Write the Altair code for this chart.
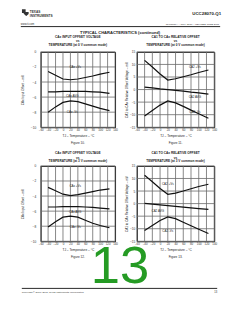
import altair as alt
import pandas as pd

FONT = "Liberation Sans"

temps = [-40, -20, 0, 20, 40, 60, 80, 100, 125]

# Figure 10: CAx input offset (0 V common mode), mV
f10_pos = [-2.6, -3.1, -3.6, -3.7, -3.6, -3.4, -3.2, -2.95, -2.7]
f10_avg = [-5.3, -5.3, -5.25, -5.25, -5.25, -5.25, -5.3, -5.35, -5.5]
f10_neg = [-8.0, -7.3, -6.7, -6.5, -6.6, -6.9, -7.2, -7.5, -7.8]
# Figure 11: CA1 to CAx relative offset (0 V common mode), mV
f11_pos = [11.6, 9.0, 6.2, 3.8, 4.3, 5.1, 5.9, 6.8, 7.8]
f11_avg = [1.0, 0.7, 0.3, 0.0, -0.3, -0.6, -1.0, -1.3, -1.8]
f11_neg = [-10.5, -8.3, -6.2, -4.5, -5.3, -6.7, -8.2, -9.6, -11.4]
# Figure 12: CAx input offset (3 V common mode), mV
f12_pos = [-2.85, -3.3, -3.75, -3.95, -3.8, -3.6, -3.4, -3.2, -3.05]
f12_avg = [-5.45, -5.45, -5.4, -5.4, -5.4, -5.45, -5.5, -5.6, -5.7]
f12_neg = [-8.1, -7.4, -6.8, -6.65, -6.8, -7.2, -7.6, -7.9, -8.2]
# Figure 13: CA1 to CAx relative offset (3 V common mode), mV
f13_pos = [11.3, 8.7, 6.0, 3.7, 4.2, 5.0, 5.9, 6.8, 7.7]
f13_avg = [0.1, -0.2, -0.5, -0.8, -1.1, -1.4, -1.7, -2.0, -2.3]
f13_neg = [-10.7, -8.7, -6.7, -5.3, -6.0, -7.4, -8.8, -10.2, -11.9]

left_names = ["CAx +Vs", "CAx AVG", "CAx -Vs"]
right_names = ["CA2 +Vs", "CA2 AVG", "CA2 -Vs"]

f10_lab_t = [33, 25, 25]
f10_lab_v = [-2.0, -5.9, -8.0]
f11_lab_t = [90, 90, 90]
f11_lab_v = [9.0, -3.0, -9.1]
f12_lab_t = [33, 33, 33]
f12_lab_v = [-2.6, -6.05, -8.1]
f13_lab_t = [20, -6, 20]
f13_lab_v = [7.8, -3.0, -10.9]

x_ticks = [-60, -40, -20, 0, 20, 40, 60, 80, 100, 120, 140]
left_ticks = [0, -2, -4, -6, -8, -10]
right_ticks = [15, 10, 5, 0, -5, -10, -15]


def deco_text(txt, x, y, size, align="center", weight="normal", color="#222",
              baseline="middle", font=FONT):
    return alt.Chart(alt.Data(values=[{}])).mark_text(
        text=txt, fontSize=size, align=align, fontWeight=weight, color=color,
        baseline=baseline, font=font
    ).encode(x=alt.value(x), y=alt.value(y))


def deco_rule(x1, x2, y1, y2=None, w=0.8, color="#111"):
    enc = dict(x=alt.value(x1), x2=alt.value(x2), y=alt.value(y1))
    if y2 is not None:
        enc["y2"] = alt.value(y2)
    return alt.Chart(alt.Data(values=[{}])).mark_rule(
        color=color, strokeWidth=w
    ).encode(**enc)


def panel(pos, avg, neg, names, lab_t, lab_v, ydom, yticks, ytitle, titles,
          title_ys, fig, width, height, label_pad, ytitle_x, extra):
    n = len(temps)
    df = pd.DataFrame({
        "T": temps * 3,
        "V": pos + avg + neg,
        "s": [names[0]] * n + [names[1]] * n + [names[2]] * n,
    })
    lab = pd.DataFrame({"T": lab_t, "V": lab_v, "s": names})
    xaxis = alt.Axis(values=x_ticks, title="TJ – Temperature – °C",
                     labelFontSize=2.9, labelPadding=1.6, labelOverlap=False,
                     labelFlush=False, grid=False,
                     titleFontSize=3.2, titleY=8.5, titleBaseline="middle",
                     titleFontWeight="normal")
    yaxis = alt.Axis(values=yticks, title=ytitle, labelFontSize=3.2,
                     labelPadding=label_pad, labelOverlap=False, labelFlush=False,
                     grid=False,
                     titleFontSize=3.1, titleX=ytitle_x, titleBaseline="middle",
                     titleFontWeight="normal")
    xscale = alt.Scale(domain=[-60, 140], nice=False, zero=False)
    yscale = alt.Scale(domain=ydom, nice=False, zero=False)
    # grid segments built from the tick arrays (two end points per grid line)
    gt, gv, gg = [], [], []
    for t in x_ticks:
        gt += [t, t]
        gv += [ydom[0], ydom[1]]
        gg += [f"x{t}", f"x{t}"]
    for v in yticks:
        gt += [-60, 140]
        gv += [v, v]
        gg += [f"y{v}", f"y{v}"]
    grid_df = pd.DataFrame({"T": gt, "V": gv, "g": gg})
    grid = alt.Chart(grid_df).mark_line(color="#6a6a6a", strokeWidth=0.8).encode(
        x=alt.X("T:Q", scale=xscale, axis=xaxis),
        y=alt.Y("V:Q", scale=yscale, axis=yaxis),
        detail="g:N")
    lines = alt.Chart(df).mark_line(color="#111", strokeWidth=1.2).encode(
        x=alt.X("T:Q", scale=xscale, axis=xaxis),
        y=alt.Y("V:Q", scale=yscale, axis=yaxis),
        detail="s:N")
    labels = alt.Chart(lab).mark_text(fontSize=3, font=FONT, color="#222").encode(
        x=alt.X("T:Q", scale=xscale, axis=xaxis),
        y=alt.Y("V:Q", scale=yscale, axis=yaxis),
        text="s:N")
    layers = [grid, lines, labels]
    for t, ty in zip(titles, title_ys):
        layers.append(deco_text(t, width / 2, ty, 3.2, weight="bold"))
    layers.append(deco_text(fig, width / 2, height + 15.8, 3.1))
    layers += extra
    return alt.layer(*layers).properties(width=width, height=height)


W_L, W_R, H = 75, 78, 76

header = [
    # invisible page frame: fixes the canvas to the 240x310 page
    deco_rule(-40, 200, -50, 260, w=0.001, color="white"),
    alt.Chart(alt.Data(values=[{}])).mark_point(
        shape="M-1,-1 L0.1,-1 L0.1,-0.2 L1,-0.2 L1,0.4 L0.3,1 L-0.1,0.7 L-0.6,0.1 L-1,0.1 Z",
        filled=True, color="#333", size=45, opacity=1
    ).encode(x=alt.value(-15.5), y=alt.value(-39.5)),
    deco_text("TEXAS", -11, -40.3, 3.2, align="left", weight="bold", color="#333"),
    deco_text("INSTRUMENTS", -11, -36.4, 3.2, align="left", weight="bold", color="#333"),
    deco_text("UCC28070-Q1", 182, -37.7, 4.4, align="right", weight="bold", color="#222"),
    deco_text("www.ti.com", -20, -27.6, 2.7, align="left", color="#333"),
    deco_text("SLUS957A – JULY 2010 – REVISED JUNE 2011", 180, -27.6, 2.5,
              align="right", color="#333"),
    deco_rule(-20, 181, -25.5, w=0.9),
    deco_text("TYPICAL CHARACTERISTICS (continued)", 80, -19.5, 4.1, weight="bold"),
]

footer = [
    deco_text("13", 80, 118, 53, color="#259b24", baseline="alphabetic"),
    deco_rule(-19, 178, 123.5, w=0.9),
    deco_text("Copyright © 2010–2011, Texas Instruments Incorporated", -19, 127.2, 2.5,
              align="left", color="#333"),
    deco_text("13", 178, 127.2, 2.7, align="right", color="#333"),
]

top_ys = [-15.0, -10.8, -6.6]
bot_ys = [-12.7, -8.4, -5.0]

p10 = panel(f10_pos, f10_avg, f10_neg, left_names, f10_lab_t, f10_lab_v,
            [-10, 0], left_ticks, "CAx Input Offset – mV",
            ["CAx INPUT OFFSET VOLTAGE", "vs", "TEMPERATURE (at 0 V common mode)"],
            top_ys, "Figure 10.", W_L, H, 5, -18, header)
p11 = panel(f11_pos, f11_avg, f11_neg, right_names, f11_lab_t, f11_lab_v,
            [-15, 15], right_ticks, "CA1 to CAx Relative Offset Voltage – mV",
            ["CA1 TO CAx RELATIVE OFFSET", "vs", "TEMPERATURE (at 0 V common mode)"],
            top_ys, "Figure 11.", W_R, H, 2, -10.5, [])
p12 = panel(f12_pos, f12_avg, f12_neg, left_names, f12_lab_t, f12_lab_v,
            [-10, 0], left_ticks, "CAx Input Offset – mV",
            ["CAx INPUT OFFSET VOLTAGE", "vs", "TEMPERATURE (at 3 V common mode)"],
            bot_ys, "Figure 12.", W_L, H, 5, -18, footer)
p13 = panel(f13_pos, f13_avg, f13_neg, right_names, f13_lab_t, f13_lab_v,
            [-15, 15], right_ticks, "CA1 to CAx Relative Offset Voltage – mV",
            ["CA1 TO CAx RELATIVE OFFSET", "vs", "TEMPERATURE (at 3 V common mode)"],
            bot_ys, "Figure 13.", W_R, H, 2, -10.5, [])

chart = alt.concat(
    p10, p11, p12, p13, columns=2, bounds="flush",
    spacing={"row": 39, "column": 22}
).properties(
    padding=0,
    background="white",
).configure_view(
    stroke="#111", strokeWidth=1.0
).configure_axis(
    labelFont=FONT, titleFont=FONT, labelColor="#333", titleColor="#222",
    ticks=False, domain=False
).configure_text(font=FONT)

chart.save("out.html", embed_options={"renderer": "svg", "actions": False})
